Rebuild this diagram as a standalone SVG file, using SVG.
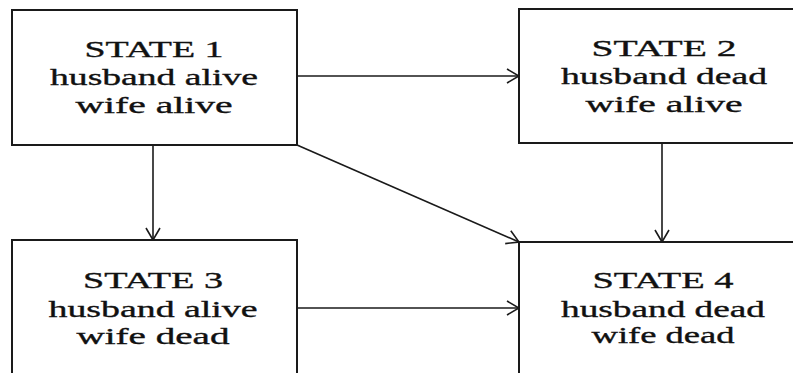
<svg xmlns="http://www.w3.org/2000/svg" width="793" height="373" viewBox="0 0 793 373">
<style>
.box{fill:#fff;stroke:#1a1a1a;stroke-width:2}
.t{font-family:"Liberation Serif","Times New Roman",serif;font-size:24px;fill:#111;stroke:#111;stroke-width:0.35;text-anchor:middle}
.c{stroke:#1a1a1a;stroke-width:1.6;fill:none;marker-end:url(#ah)}
</style>
<defs>
<marker id="ah" markerUnits="userSpaceOnUse" markerWidth="14" markerHeight="16" viewBox="0 0 14 16" refX="13" refY="8" orient="auto">
<path d="M1,1 L13,8 L1,15" fill="none" stroke="#1a1a1a" stroke-width="1.6"/>
</marker>
</defs>
<rect width="793" height="373" fill="#fff"/>
<g id="connectors">
<line class="c" x1="297" y1="76" x2="519" y2="76"/>
<line class="c" x1="153" y1="145" x2="153" y2="240"/>
<line class="c" x1="662" y1="143" x2="662" y2="242"/>
<line class="c" x1="297" y1="308" x2="519" y2="308"/>
<line class="c" x1="297" y1="145" x2="519" y2="242"/>
</g>
<g id="state1">
<rect class="box" x="12" y="10" width="285" height="135"/>
<text class="t" x="154" y="57" textLength="139" lengthAdjust="spacingAndGlyphs">STATE 1</text>
<text class="t" x="154" y="85" textLength="208" lengthAdjust="spacingAndGlyphs">husband alive</text>
<text class="t" x="154" y="113" textLength="157" lengthAdjust="spacingAndGlyphs">wife alive</text>
</g>
<g id="state2">
<rect class="box" x="519" y="9" width="300" height="134"/>
<text class="t" x="664" y="56" textLength="145" lengthAdjust="spacingAndGlyphs">STATE 2</text>
<text class="t" x="664" y="84" textLength="206" lengthAdjust="spacingAndGlyphs">husband dead</text>
<text class="t" x="664" y="112" textLength="157" lengthAdjust="spacingAndGlyphs">wife alive</text>
</g>
<g id="state3">
<rect class="box" x="12" y="240" width="285" height="200"/>
<text class="t" x="153" y="288" textLength="140" lengthAdjust="spacingAndGlyphs">STATE 3</text>
<text class="t" x="153" y="317" textLength="209" lengthAdjust="spacingAndGlyphs">husband alive</text>
<text class="t" x="153" y="344" textLength="153" lengthAdjust="spacingAndGlyphs">wife dead</text>
</g>
<g id="state4">
<rect class="box" x="519" y="242" width="300" height="200"/>
<text class="t" x="663" y="288" textLength="141" lengthAdjust="spacingAndGlyphs">STATE 4</text>
<text class="t" x="663" y="317" textLength="204" lengthAdjust="spacingAndGlyphs">husband dead</text>
<text class="t" x="663" y="343" textLength="143" lengthAdjust="spacingAndGlyphs">wife dead</text>
</g>
</svg>
